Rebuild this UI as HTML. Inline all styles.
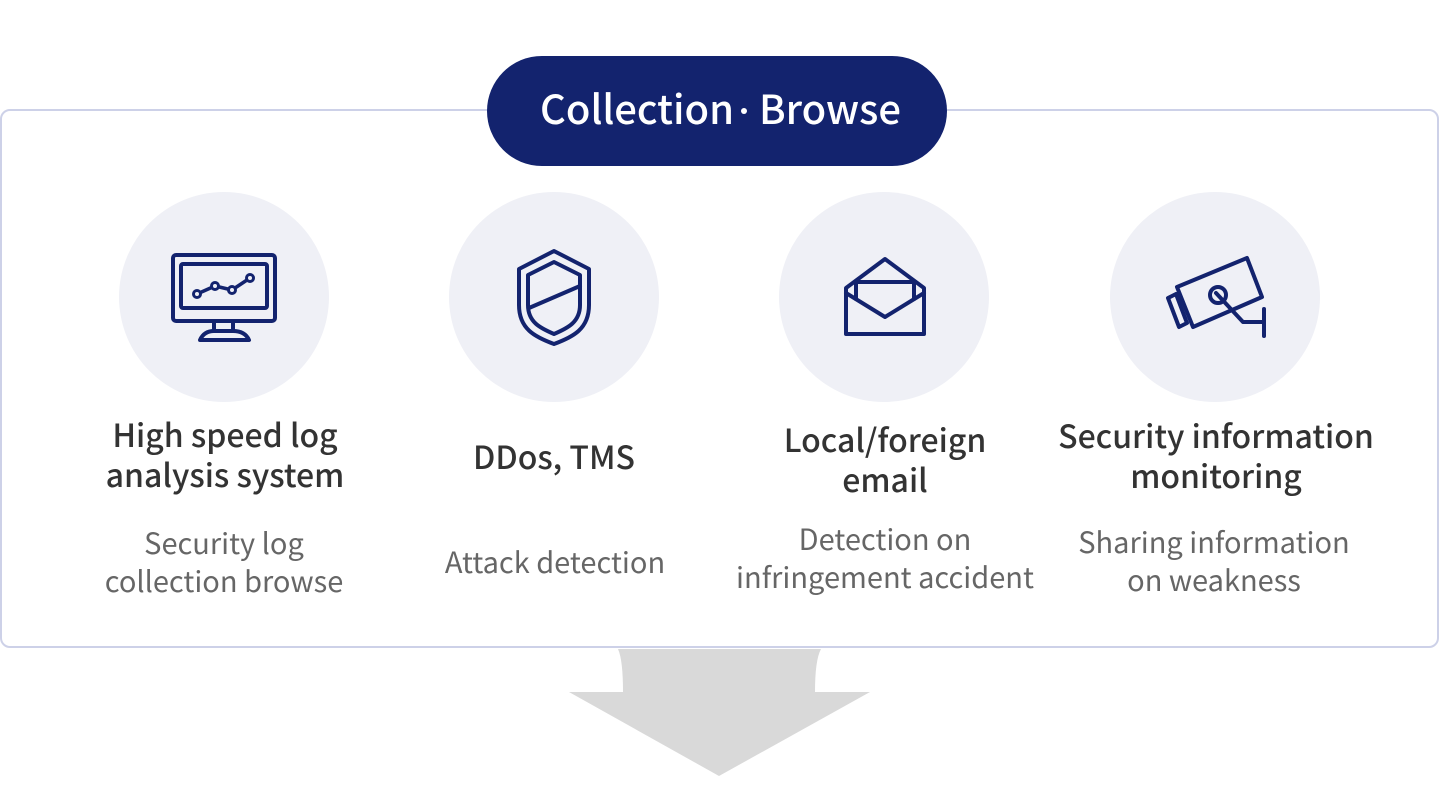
<!DOCTYPE html>
<html>
<head>
<meta charset="utf-8">
<style>
html,body{margin:0;padding:0;background:#fff;}
body{width:1440px;height:811px;overflow:hidden;}
svg{display:block;}
text{font-family:"Noto Sans CJK KR","Liberation Sans",sans-serif;}
.t{fill:#333;font-size:32px;font-weight:500;}
.s{fill:#666;font-size:29px;font-weight:400;}
</style>
</head>
<body>
<svg width="1440" height="811" viewBox="0 0 1440 811" xmlns="http://www.w3.org/2000/svg">
  <!-- main box -->
  <rect x="1" y="110" width="1437" height="537" rx="9" ry="9" fill="#fff" stroke="#cdd1e8" stroke-width="2"/>

  <!-- arrow -->
  <path d="M618,649 L821,649 Q815,660 815,692 L870,692 L719,776 L569,692 L623,692 Q623,660 618,649 Z" fill="#d9d9d9"/>

  <!-- pill -->
  <rect x="487" y="56" width="460" height="110" rx="55" ry="55" fill="#13236e"/>
  <text x="540" y="124" fill="#fff" font-size="40" font-weight="500">Collection</text>
  <circle cx="744" cy="111" r="3" fill="#fff"/>
  <text x="759" y="124" fill="#fff" font-size="40" font-weight="500">Browse</text>

  <!-- circles -->
  <circle cx="224" cy="297" r="105" fill="#eff0f6"/>
  <circle cx="554" cy="297" r="105" fill="#eff0f6"/>
  <circle cx="884" cy="297" r="105" fill="#eff0f6"/>
  <circle cx="1215" cy="297" r="105" fill="#eff0f6"/>

  <g fill="none" stroke="#13236e" stroke-width="4" stroke-linejoin="round" stroke-linecap="round">
    <!-- monitor -->
    <rect x="173" y="255" width="102" height="66" rx="3"/>
    <rect x="181" y="264" width="86" height="44" rx="2"/>
    <line x1="214" y1="322" x2="214" y2="331"/>
    <line x1="233" y1="322" x2="233" y2="331"/>
    <path d="M200,340 Q204,331 214,331 L233,331 Q245,331 249,340 Z"/>
    <polyline points="197,294 215,286 232,290 250,278" stroke-width="3.5"/>
    <circle cx="197" cy="294" r="3.5" fill="#eff0f6" stroke-width="3"/>
    <circle cx="215" cy="286" r="3.5" fill="#eff0f6" stroke-width="3"/>
    <circle cx="232" cy="290" r="3.5" fill="#eff0f6" stroke-width="3"/>
    <circle cx="250" cy="278" r="3.5" fill="#eff0f6" stroke-width="3"/>

    <!-- shield -->
    <path d="M554,251 L589,269 L589,305 C589,329 573,337 554,344 C535,337 519,329 519,305 L519,269 Z"/>
    <path d="M554,262 L580,275 L580,305 C580,322 568,328 554,334 C540,328 528,322 528,305 L528,275 Z"/>
    <line x1="529" y1="308" x2="580" y2="286"/>

    <!-- envelope -->
    <path d="M846,288 L885,259 L924,288 L924,334 L846,334 Z"/>
    <path d="M846,293 L885,317 L924,293"/>
    <path d="M856,299 L856,282 L914,282 L914,299"/>

    <!-- camera -->
    <path d="M1177,287 L1247,258 L1262,297 L1193,327 Z"/>
    <path d="M1168,298 L1176,294 L1187,323 L1179,327 Z"/>
    <circle cx="1218" cy="295" r="8"/>
    <path d="M1216,293 L1243,322 L1264,322"/>
    <line x1="1264" y1="309" x2="1264" y2="336"/>
  </g>

  <!-- item 1 -->
  <text class="t" x="225" y="447" text-anchor="middle">High speed log</text>
  <text class="t" x="225" y="487" text-anchor="middle">analysis system</text>
  <text class="s" x="224" y="554" text-anchor="middle">Security log</text>
  <text class="s" x="224" y="592" text-anchor="middle">collection browse</text>

  <!-- item 2 -->
  <text class="t" x="554" y="469" text-anchor="middle">DDos, TMS</text>
  <text class="s" x="555" y="573" text-anchor="middle">Attack detection</text>

  <!-- item 3 -->
  <text class="t" x="885" y="452" text-anchor="middle">Local/foreign</text>
  <text class="t" x="885" y="492" text-anchor="middle">email</text>
  <text class="s" x="885" y="550" text-anchor="middle">Detection on</text>
  <text class="s" x="885" y="588" text-anchor="middle">infringement accident</text>

  <!-- item 4 -->
  <text class="t" x="1216" y="448" text-anchor="middle">Security information</text>
  <text class="t" x="1216" y="488" text-anchor="middle">monitoring</text>
  <text class="s" x="1214" y="553" text-anchor="middle">Sharing information</text>
  <text class="s" x="1214" y="591" text-anchor="middle">on weakness</text>
</svg>
</body>
</html>
